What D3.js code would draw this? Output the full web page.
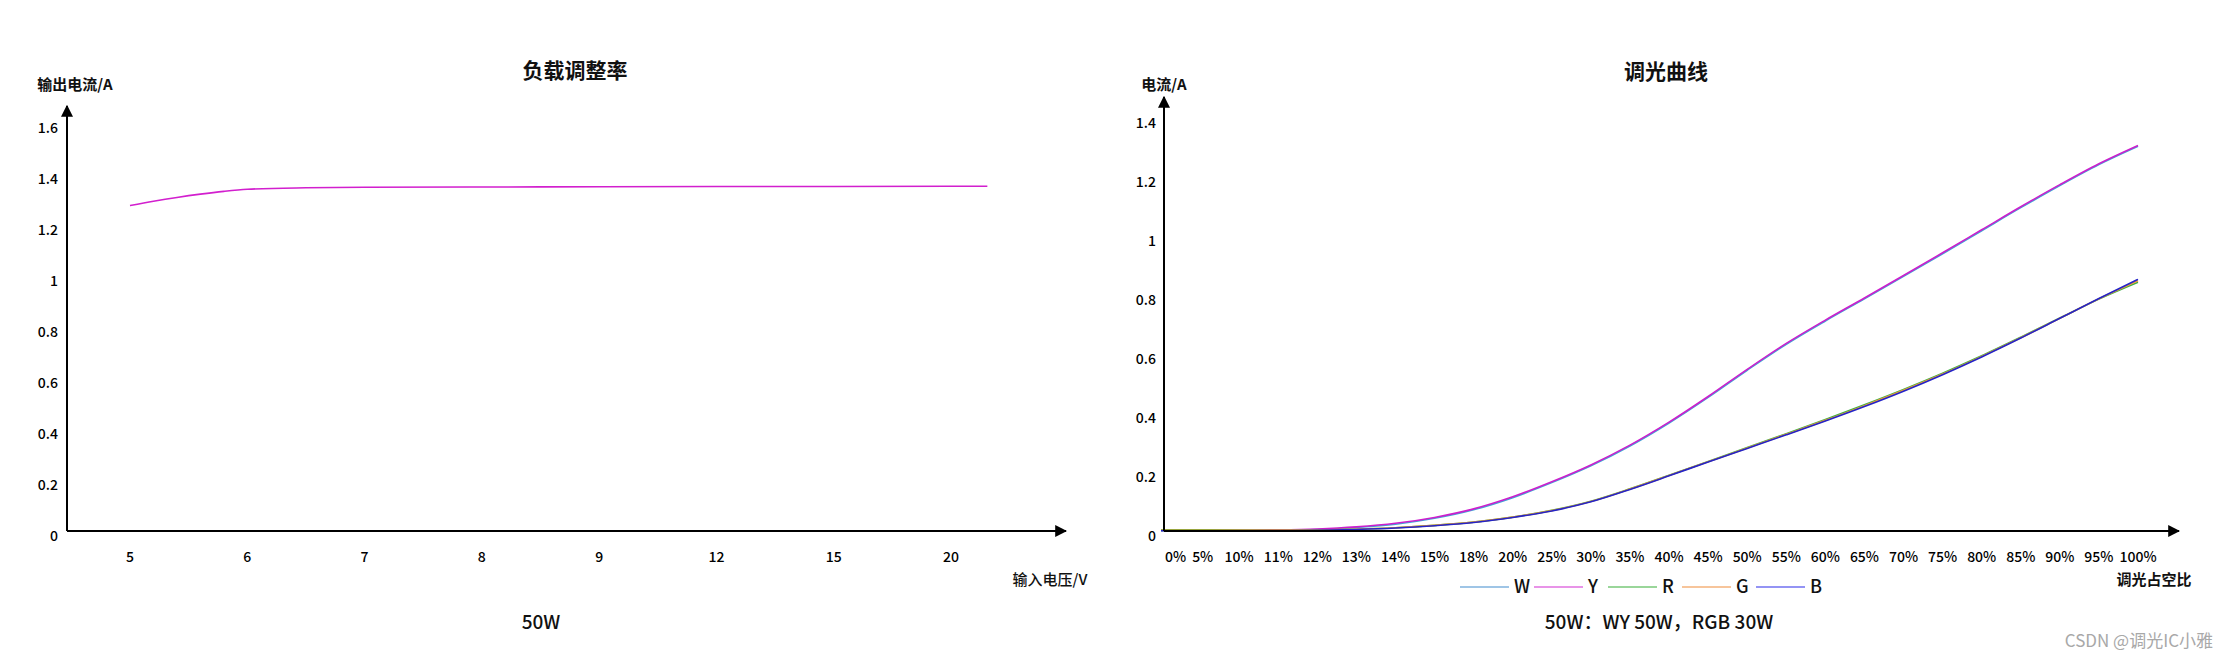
<!DOCTYPE html>
<html>
<head>
<meta charset="utf-8">
<script src="https://cdn.jsdelivr.net/npm/d3@7"></script>
<style>
  html, body { margin: 0; padding: 0; background: #fff; }
  svg text { font-family: "Noto Sans CJK SC", "Noto Sans", sans-serif; }
</style>
</head>
<body>
<svg id="chart" width="2229" height="660"></svg>
<script>
// ---------------- DATA ----------------
// Left chart: 负载调整率
const loadTitle = "负载调整率";
const loadYTitle = "输出电流/A";
const loadXTitle = "输入电压/V";
const loadSubtitle = "50W";
const loadCategories = ["5", "6", "7", "8", "9", "12", "15", "20"];
const loadYTicks = [0, 0.2, 0.4, 0.6, 0.8, 1, 1.2, 1.4, 1.6];
// curve sampled along category index positions
const loadCurveX = [0, 0.2, 0.4, 0.6, 0.8, 1, 1.5, 2, 3, 4, 5, 6, 7, 7.31];
const loadCurveY = [1.276, 1.293, 1.308, 1.321, 1.332, 1.340, 1.346, 1.348, 1.349, 1.350, 1.351, 1.351, 1.352, 1.352];

// Right chart: 调光曲线
const dimTitle = "调光曲线";
const dimYTitle = "电流/A";
const dimXTitle = "调光占空比";
const dimSubtitle = "50W：WY 50W，RGB 30W";
const dimCategories = ["0%","5%","10%","11%","12%","13%","14%","15%","18%","20%","25%","30%","35%","40%","45%","50%","55%","60%","65%","70%","75%","80%","85%","90%","95%","100%"];
const dimYTicks = [0, 0.2, 0.4, 0.6, 0.8, 1, 1.2, 1.4];
const seriesNames = ["W", "Y", "R", "G", "B"];
const seriesW = [0.001,0.001,0.001,0.002,0.005,0.012,0.023,0.043,0.072,0.113,0.164,0.221,0.288,0.366,0.453,0.545,0.633,0.712,0.787,0.863,0.940,1.018,1.096,1.171,1.242,1.304];
const seriesY = [0.003,0.003,0.003,0.004,0.007,0.014,0.026,0.046,0.075,0.116,0.167,0.224,0.291,0.369,0.456,0.548,0.636,0.715,0.790,0.866,0.943,1.021,1.099,1.174,1.245,1.307];
const seriesR = [0.004,0.004,0.003,0.002,0.003,0.006,0.011,0.019,0.030,0.047,0.070,0.101,0.143,0.189,0.236,0.283,0.330,0.378,0.428,0.480,0.535,0.594,0.657,0.722,0.786,0.843];
const seriesG = [0.002,0.002,0.002,0.002,0.003,0.006,0.011,0.019,0.030,0.047,0.069,0.100,0.142,0.188,0.235,0.281,0.328,0.375,0.425,0.477,0.532,0.592,0.655,0.721,0.787,0.848];
const seriesB = [0.001,0.001,0.001,0.001,0.002,0.005,0.010,0.018,0.029,0.046,0.068,0.099,0.141,0.187,0.234,0.280,0.326,0.373,0.422,0.474,0.530,0.590,0.654,0.721,0.788,0.853];
const seriesColors = ["#3fa6d6", "#cc1fcc", "#3cb043", "#f39a3a", "#2424c8"];
const legendColors = ["#7fb2de", "#e070e0", "#78c878", "#f4b27a", "#7070f0"];
const watermark = "CSDN @调光IC小雅";

// ---------------- DRAW ----------------
const svg = d3.select("#chart");
const defs = svg.append("defs");
defs.append("marker").attr("id", "arrow")
  .attr("viewBox", "0 0 10 10").attr("refX", 9).attr("refY", 5)
  .attr("markerUnits", "userSpaceOnUse")
  .attr("markerWidth", 12).attr("markerHeight", 17)
  .attr("orient", "auto")
  .append("path").attr("d", "M0,0 L10,5 L0,10 Z").attr("fill", "#000");

const fmt = d => String(+d.toFixed(1));

function drawAxes(g, x0, y0, xEnd, yEnd) {
  g.append("line").attr("x1", x0).attr("y1", y0).attr("x2", xEnd).attr("y2", y0)
    .attr("stroke", "#000").attr("stroke-width", 2).attr("marker-end", "url(#arrow)");
  g.append("line").attr("x1", x0).attr("y1", y0).attr("x2", x0).attr("y2", yEnd)
    .attr("stroke", "#000").attr("stroke-width", 2).attr("marker-end", "url(#arrow)");
}

function yLabels(g, y, ticks, x) {
  const ax = d3.axisLeft(y).tickValues(ticks).tickSize(0).tickPadding(0).tickFormat(fmt);
  const a = g.append("g").attr("transform", `translate(${x},0)`).call(ax);
  a.select(".domain").remove();
  a.selectAll("text").attr("font-size", 14).attr("fill", "#000").attr("font-weight", 500)
    .attr("font-family", '"Noto Sans CJK SC", sans-serif')
    .attr("dy", "0.36em").attr("y", 4);
}

// ---- Left chart ----
{
  const g = svg.append("g");
  const x = d3.scaleLinear().domain([0, loadCategories.length - 1]).range([130, 951]);
  const y = d3.scaleLinear().domain([0, 1.6]).range([531, 123]);
  drawAxes(g, 67, 531, 1066, 106);
  yLabels(g, y, loadYTicks, 58);
  g.selectAll(".xl").data(loadCategories).join("text")
    .attr("x", (d, i) => x(i)).attr("y", 557).attr("dy", "0.36em")
    .attr("text-anchor", "middle").attr("font-size", 14).attr("font-weight", 500)
    .attr("fill", "#000").text(d => d);
  const line = d3.line().x((d, i) => x(loadCurveX[i])).y(d => y(d)).curve(d3.curveMonotoneX);
  g.append("path").datum(loadCurveY).attr("d", line).attr("fill", "none")
    .attr("stroke", "#d21fce").attr("stroke-width", 1.6);
  g.append("text").attr("x", 575).attr("y", 70).attr("dy", "0.36em").attr("text-anchor", "middle")
    .attr("font-size", 21).attr("font-weight", "bold").attr("fill", "#111").text(loadTitle);
  g.append("text").attr("x", 75).attr("y", 85).attr("dy", "0.36em").attr("text-anchor", "middle")
    .attr("font-size", 15).attr("font-weight", "bold").attr("fill", "#111").text(loadYTitle);
  g.append("text").attr("x", 1050).attr("y", 580).attr("dy", "0.36em").attr("text-anchor", "middle")
    .attr("font-size", 15).attr("font-weight", 500).attr("fill", "#111").text(loadXTitle);
  g.append("text").attr("x", 541).attr("y", 622).attr("dy", "0.36em").attr("text-anchor", "middle")
    .attr("font-size", 19).attr("font-weight", 500).attr("fill", "#111").text(loadSubtitle);
}

// ---- Right chart ----
{
  const g = svg.append("g");
  const axisX = 1164;
  const x = d3.scalePoint().domain(dimCategories).range([1161, 2138]);
  const y = d3.scaleLinear().domain([0, 1.4]).range([531, 118]);
  const allSeries = [seriesW, seriesY, seriesR, seriesG, seriesB];
  const line = d3.line().x((d, i) => x(dimCategories[i])).y(d => y(d)).curve(d3.curveMonotoneX);
  allSeries.forEach((s, k) => {
    g.append("path").datum(s).attr("d", line).attr("fill", "none")
      .attr("stroke", seriesColors[k]).attr("stroke-width", 1.6);
  });
  drawAxes(g, axisX, 531, 2179, 97);
  yLabels(g, y, dimYTicks, 1156);
  // x tick labels, nudged so none overlaps the y-axis or its neighbour
  let prevRight = axisX;
  g.selectAll(".xl").data(dimCategories).join("text")
    .attr("y", 557).attr("dy", "0.36em").attr("text-anchor", "middle")
    .attr("font-size", 14).attr("font-weight", 500).attr("fill", "#000").text(d => d)
    .each(function(d) {
      const w = this.getComputedTextLength();
      let cx = x(d);
      if (cx - w / 2 < prevRight + 1) cx = prevRight + 1 + w / 2;
      d3.select(this).attr("x", cx);
      prevRight = cx + w / 2 + 5;
    });
  g.append("text").attr("x", 1666).attr("y", 71).attr("dy", "0.36em").attr("text-anchor", "middle")
    .attr("font-size", 21).attr("font-weight", "bold").attr("fill", "#111").text(dimTitle);
  g.append("text").attr("x", 1164).attr("y", 85).attr("dy", "0.36em").attr("text-anchor", "middle")
    .attr("font-size", 15).attr("font-weight", "bold").attr("fill", "#111").text(dimYTitle);
  g.append("text").attr("x", 2154).attr("y", 580).attr("dy", "0.36em").attr("text-anchor", "middle")
    .attr("font-size", 15).attr("font-weight", "bold").attr("fill", "#111").text(dimXTitle);
  // legend
  const lg = g.append("g").attr("transform", "translate(1460,587)");
  seriesNames.forEach((n, k) => {
    const it = lg.append("g").attr("transform", `translate(${k * 74},0)`);
    it.append("line").attr("x1", 0).attr("x2", 49).attr("y1", 0).attr("y2", 0)
      .attr("stroke", legendColors[k]).attr("stroke-width", 1.3);
    it.append("text").attr("x", 54).attr("y", 0).attr("dy", "0.36em")
      .attr("font-size", 18).attr("font-weight", 500).attr("fill", "#111").text(n);
  });
  g.append("text").attr("x", 1659).attr("y", 622).attr("dy", "0.36em").attr("text-anchor", "middle")
    .attr("font-size", 19).attr("font-weight", 500).attr("fill", "#111").text(dimSubtitle);
}

// watermark
svg.append("text").attr("x", 2213).attr("y", 641).attr("dy", "0.36em").attr("text-anchor", "end")
  .attr("font-size", 17).attr("fill", "#a8a8a8").text(watermark);
</script>
</body>
</html>
